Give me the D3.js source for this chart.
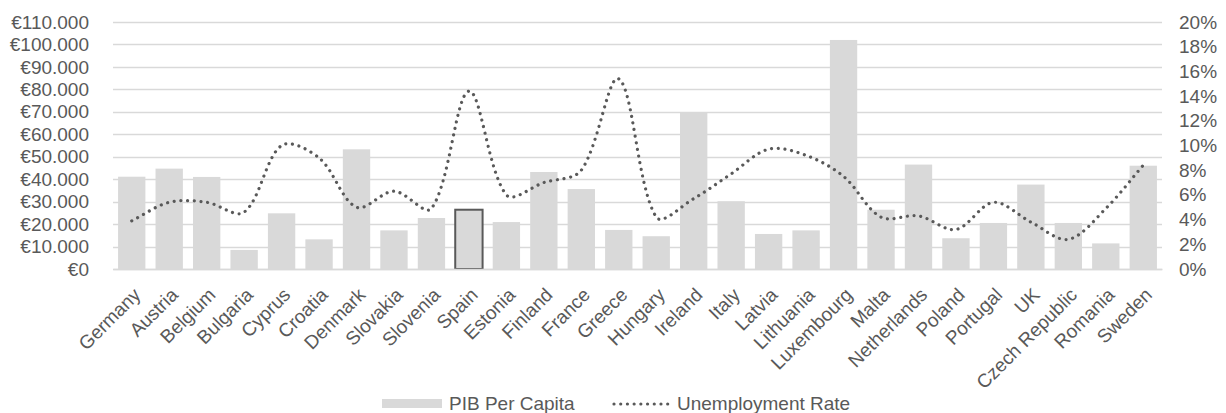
<!DOCTYPE html>
<html>
<head>
<meta charset="utf-8">
<script src="https://cdn.jsdelivr.net/npm/d3@7"></script>
<style>
  body { margin: 0; background: #fff; }
  text { font-family: "Liberation Sans", Arial, sans-serif; fill: #595959; }
</style>
</head>
<body>
<script>
//chart data
var countries = ["Germany", "Austria", "Belgium", "Bulgaria", "Cyprus", "Croatia", "Denmark",
    "Slovakia", "Slovenia", "Spain", "Estonia", "Finland", "France", "Greece", "Hungary",
    "Ireland", "Italy", "Latvia", "Lithuania", "Luxembourg", "Malta", "Netherlands", "Poland",
    "Portugal", "UK", "Czech Republic", "Romania", "Sweden"];

var pibPerCapita = [41100, 44700, 41000, 8500, 24800, 13200, 53300,
    17200, 22700, 26400, 20900, 43200, 35600, 17400, 14600,
    69800, 30200, 15600, 17200, 102000, 26400, 46500, 13700,
    20500, 37600, 20500, 11400, 46000];

var unemployment = [3.9, 5.4, 5.4, 4.6, 10.0, 9.0, 5.0,
    6.3, 4.9, 14.4, 6.0, 7.0, 8.0, 15.4, 4.2,
    5.7, 7.7, 9.7, 9.2, 7.5, 4.2, 4.3, 3.2,
    5.4, 3.8, 2.4, 4.9, 8.4];

var euroTicks = d3.range(0, 110001, 10000);
var pctTicks = d3.range(0, 21, 2);

//the bar that is drawn with an outline
var highlighted = "Spain";

window.onload = setChart();

//smoothing in the spreadsheet style: bezier segments whose
//control points are weighted by the length of the neighbouring chords
function excelSmooth(context){
    return {
        lineStart: function(){ this._p = []; },
        lineEnd: function(){
            var p = this._p, n = p.length;
            if (!n) return;
            context.moveTo(p[0][0], p[0][1]);
            var dist = function(a, b){ return Math.hypot(b[0] - a[0], b[1] - a[1]); };
            for (var i = 0; i < n - 1; i++){
                var p0 = p[Math.max(i - 1, 0)], p1 = p[i], p2 = p[i + 1], p3 = p[Math.min(i + 2, n - 1)];
                var d01 = dist(p0, p1), d12 = dist(p1, p2), d23 = dist(p2, p3);
                var f1 = d12 / (3 * (d01 + d12) || 1), f2 = d12 / (3 * (d12 + d23) || 1);
                context.bezierCurveTo(
                    p1[0] + (p2[0] - p0[0]) * f1, p1[1] + (p2[1] - p0[1]) * f1,
                    p2[0] - (p3[0] - p1[0]) * f2, p2[1] - (p3[1] - p1[1]) * f2,
                    p2[0], p2[1]);
            }
        },
        areaStart: function(){},
        areaEnd: function(){},
        point: function(x, y){ this._p.push([+x, +y]); }
    };
}

function setChart(){

    var width = 1226,
        height = 413;

    var margin = {left: 113, right: 64, top: 22, bottom: 144};
    var fontSize = "19px";

    var svg = d3.select("body")
        .append("svg")
        .attr("width", width)
        .attr("height", height);

    var x = d3.scaleBand()
        .domain(countries)
        .range([margin.left, width - margin.right])
        .paddingInner(0.27)
        .paddingOuter(0.135);

    var yLeft = d3.scaleLinear()
        .domain([0, 110000])
        .range([height - margin.bottom, margin.top]);

    var yRight = d3.scaleLinear()
        .domain([0, 20])
        .range([height - margin.bottom, margin.top]);

    var euroFormat = function(v){
        return "€" + d3.format(",")(v).replace(/,/g, ".");
    };

    //gridlines
    svg.append("g")
        .selectAll("line")
        .data(euroTicks)
        .enter()
        .append("line")
        .attr("x1", margin.left)
        .attr("x2", width - margin.right)
        .attr("y1", function(d){ return Math.round(yLeft(d)) + 0.5; })
        .attr("y2", function(d){ return Math.round(yLeft(d)) + 0.5; })
        .attr("stroke", "#d9d9d9")
        .attr("stroke-width", 1.3);

    //left axis
    var leftAxis = svg.append("g")
        .attr("transform", "translate(" + (margin.left - 24) + ",0)")
        .call(d3.axisLeft(yLeft).tickValues(euroTicks).tickFormat(euroFormat).tickSize(0).tickPadding(0));
    leftAxis.select(".domain").remove();
    leftAxis.selectAll("text")
        .attr("font-size", fontSize)
        .attr("fill", "#595959");

    //right axis
    var rightAxis = svg.append("g")
        .attr("transform", "translate(" + (width - margin.right + 17) + ",0)")
        .call(d3.axisRight(yRight).tickValues(pctTicks).tickFormat(function(d){ return d + "%"; }).tickSize(0).tickPadding(0));
    rightAxis.select(".domain").remove();
    rightAxis.selectAll("text")
        .attr("font-size", fontSize)
        .attr("fill", "#595959");

    //bars
    svg.append("g")
        .selectAll("rect")
        .data(countries)
        .enter()
        .append("rect")
        .attr("x", function(d){ return x(d); })
        .attr("y", function(d, i){ return yLeft(pibPerCapita[i]); })
        .attr("width", x.bandwidth())
        .attr("height", function(d, i){ return yLeft(0) - yLeft(pibPerCapita[i]); })
        .attr("fill", "#d9d9d9")
        .attr("stroke", function(d){ return d == highlighted ? "#595959" : "none"; })
        .attr("stroke-width", 2);

    //category axis
    var bottomAxis = svg.append("g")
        .attr("transform", "translate(0," + yLeft(0) + ")")
        .call(d3.axisBottom(x).tickSize(0).tickPadding(0));
    bottomAxis.select(".domain")
        .attr("stroke", "#d9d9d9")
        .attr("stroke-width", 1.3);
    bottomAxis.selectAll("text")
        .attr("font-size", fontSize)
        .attr("fill", "#595959")
        .attr("text-anchor", "end")
        .attr("dy", "0")
        .attr("transform", "translate(10,27) rotate(-45)");

    //unemployment line
    var line = d3.line()
        .x(function(d, i){ return x(countries[i]) + x.bandwidth() / 2; })
        .y(function(d){ return yRight(d); })
        .curve(excelSmooth);

    svg.append("path")
        .datum(unemployment)
        .attr("d", line)
        .attr("fill", "none")
        .attr("stroke", "#595959")
        .attr("stroke-width", 3.2)
        .attr("stroke-linecap", "round")
        .attr("stroke-dasharray", "0.01 6.7");

    //legend
    var legend = svg.append("g");
    legend.append("rect")
        .attr("x", 382)
        .attr("y", 399)
        .attr("width", 60)
        .attr("height", 9)
        .attr("fill", "#d9d9d9");
    legend.append("text")
        .attr("x", 449)
        .attr("y", 410)
        .attr("font-size", fontSize)
        .text("PIB Per Capita");
    legend.append("line")
        .attr("x1", 614)
        .attr("x2", 670)
        .attr("y1", 404)
        .attr("y2", 404)
        .attr("stroke", "#595959")
        .attr("stroke-width", 3.2)
        .attr("stroke-linecap", "round")
        .attr("stroke-dasharray", "0.01 6.7");
    legend.append("text")
        .attr("x", 677)
        .attr("y", 410)
        .attr("font-size", fontSize)
        .text("Unemployment Rate");
};
</script>
</body>
</html>
